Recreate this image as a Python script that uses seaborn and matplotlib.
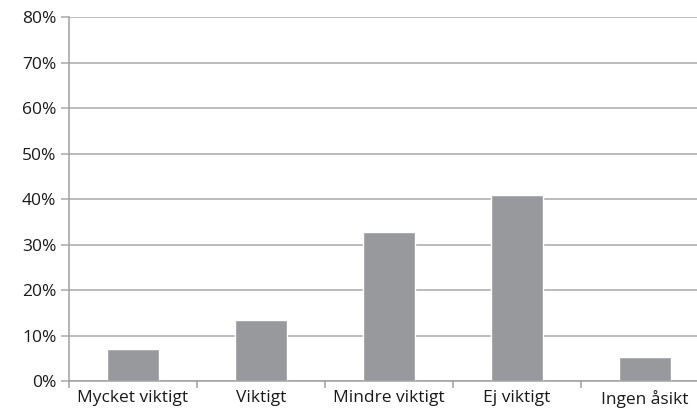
import matplotlib
matplotlib.use('Agg')
import matplotlib.pyplot as plt
import numpy as np
import seaborn as sns
from matplotlib.ticker import PercentFormatter

# Data
categories = ['Mycket viktigt', 'Viktigt', 'Mindre viktigt', 'Ej viktigt', 'Ingen åsikt']
shares = [7.2, 13.5, 32.9, 41.0, 5.3]
y_ticks = np.arange(0, 81, 10)

sns.set_style('white')
plt.rcParams['font.family'] = ['Open Sans', 'DejaVu Sans']

fig = plt.figure(figsize=(6.97, 4.18), dpi=100)
# axes runs past the right edge like the original
ax = fig.add_axes([69 / 697, 36.7 / 418, 640 / 697, 364 / 418])

sns.barplot(x=categories, y=shares, color='#98999d', saturation=1, width=0.4, ax=ax)

ax.set_ylim(0, 80)
ax.set_xlim(-0.5, len(categories) - 0.5)
ax.set_yticks(y_ticks)
ax.yaxis.set_major_formatter(PercentFormatter(decimals=0))

# gridlines behind bars
ax.set_axisbelow(True)
ax.yaxis.grid(True, color='#a9a9a9', linewidth=1.1)

# ticks between categories
ax.set_xticks(np.arange(len(categories)))
ax.set_xticks(np.arange(len(categories) + 1) - 0.5, minor=True)
ax.tick_params(axis='x', which='major', length=0, pad=6, labelsize=12.5, labelcolor='#1a1a1a')
ax.tick_params(axis='x', which='minor', length=5, width=1.1, color='#a0a0a0', direction='out', bottom=True)
ax.tick_params(axis='y', length=6, width=1.1, color='#a9a9a9', direction='out', left=True, pad=3,
               labelsize=12.5, labelcolor='#1a1a1a')

for side in ['top', 'right']:
    ax.spines[side].set_visible(False)
for side in ['left', 'bottom']:
    ax.spines[side].set_color('#a0a0a0')
    ax.spines[side].set_linewidth(1.1)

ax.set_xlabel('')
ax.set_ylabel('')

fig.savefig('out.png', dpi=100)
